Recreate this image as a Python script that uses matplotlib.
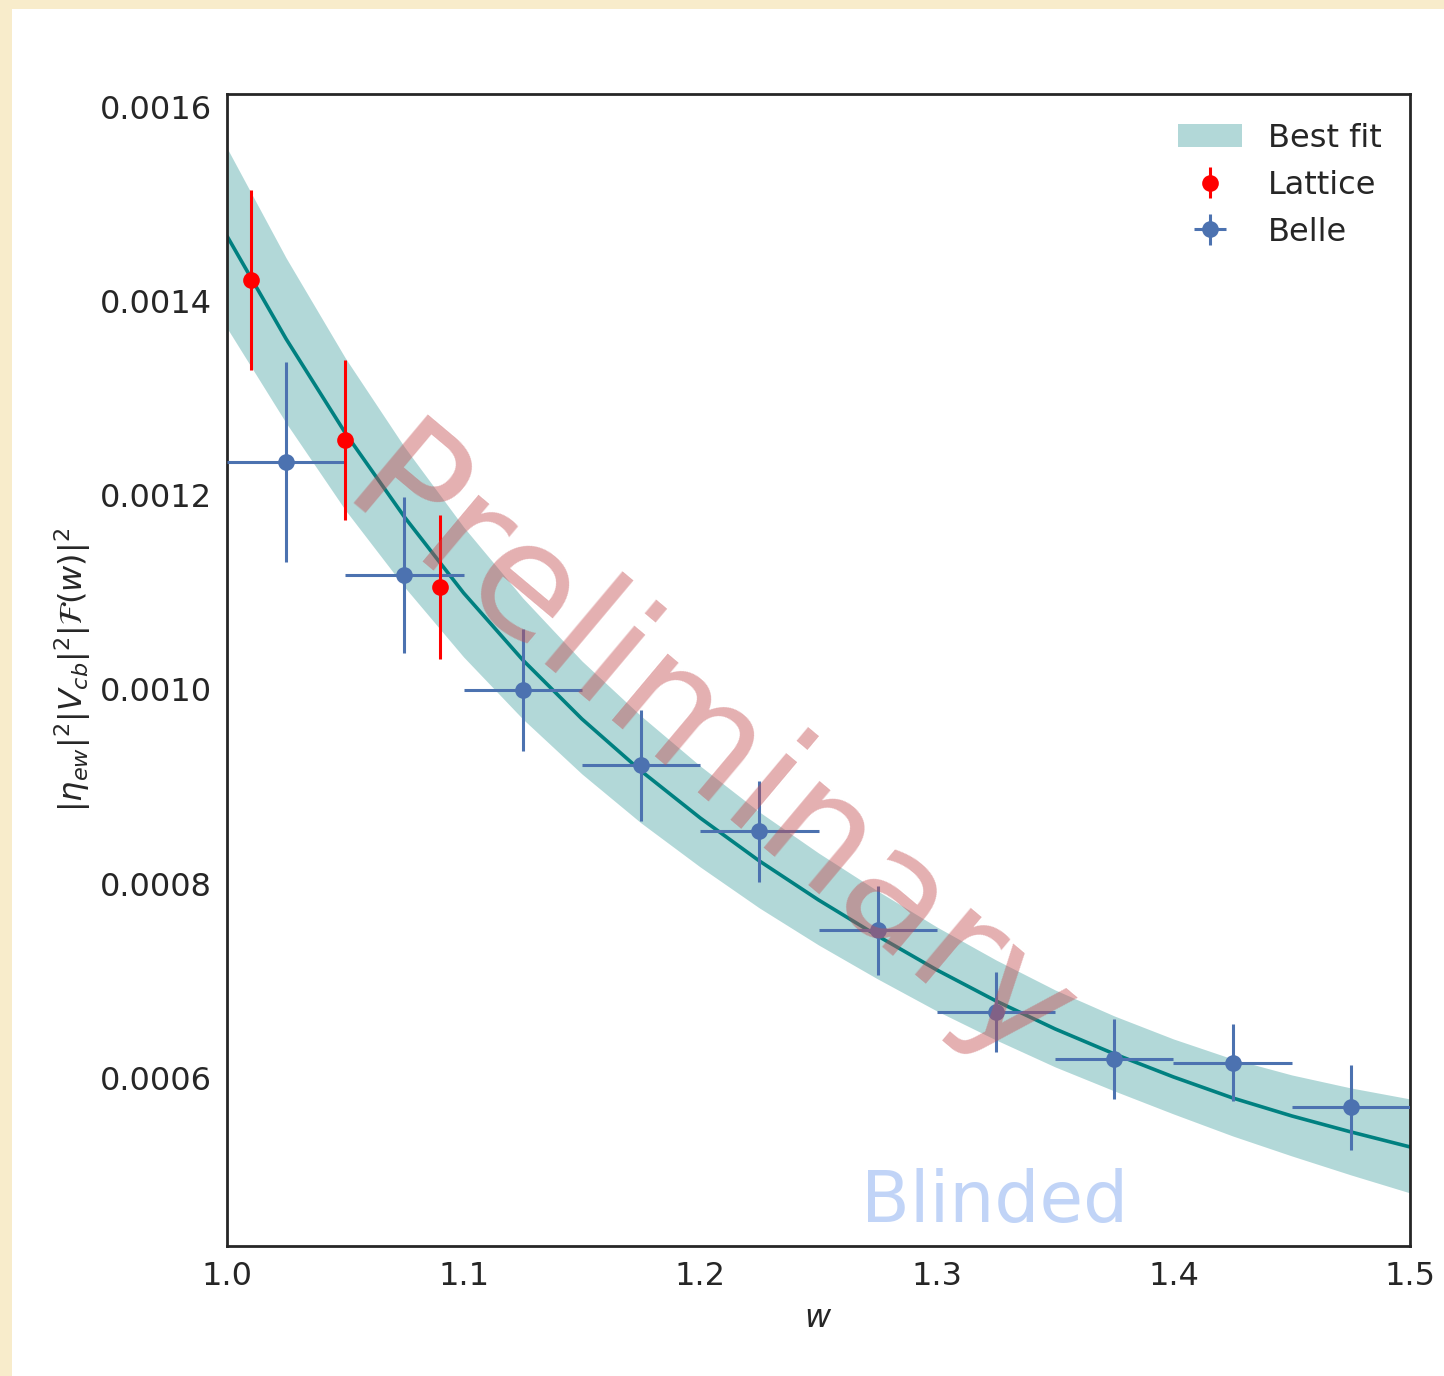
import numpy as np
import matplotlib.pyplot as plt
from matplotlib.patches import Rectangle
import seaborn as sns

sns.set_style("white")
plt.rcParams['font.family'] = ['DejaVu Sans']
plt.rcParams['mathtext.fontset'] = 'dejavusans'

# fit curve and 1 sigma band
w_fit = [1.000, 1.025, 1.050, 1.075, 1.100, 1.125, 1.150, 1.175, 1.200, 1.225, 1.250,
         1.275, 1.300, 1.325, 1.350, 1.375, 1.400, 1.425, 1.450, 1.475, 1.500]
fit_central = [1466.88, 1360.84, 1264.06, 1177.58, 1099.33, 1030.35, 969.61, 916.07,
               867.68, 823.41, 783.26, 746.20, 711.19, 679.28, 650.45, 624.71, 601.03,
               579.41, 560.88, 544.41, 528.96]
fit_upper = [1557.48, 1444.23, 1341.27, 1249.65, 1167.28, 1094.18, 1029.32, 972.70,
             921.22, 873.86, 831.65, 792.53, 755.46, 721.49, 690.60, 663.83, 640.15,
             619.56, 603.09, 589.70, 578.38]
fit_lower = [1372.16, 1274.35, 1184.78, 1105.51, 1033.44, 969.61, 912.98, 862.53,
             817.23, 775.02, 736.93, 701.93, 668.98, 639.12, 611.33, 586.62, 562.94,
             540.29, 519.70, 500.14, 481.61]
# stored in units of 1e-6
fit_central = np.array(fit_central) * 1e-6
fit_upper = np.array(fit_upper) * 1e-6
fit_lower = np.array(fit_lower) * 1e-6

# lattice points
w_lat = [1.01, 1.05, 1.09]
f_lat = [0.0014216, 0.0012569, 0.0011055]
f_lat_err = [0.0000930, 0.0000827, 0.0000743]

# Belle bins
w_belle = [1.025, 1.075, 1.125, 1.175, 1.225, 1.275, 1.325, 1.375, 1.425, 1.475]
w_belle_err = [0.025] * 10
f_belle = [0.0012342, 0.0011179, 0.0009995, 0.0009219, 0.0008540,
           0.0007519, 0.0006683, 0.0006196, 0.0006157, 0.0005696]
f_belle_err = [0.0001026, 0.0000800, 0.0000625, 0.0000569, 0.0000518,
               0.0000458, 0.0000412, 0.0000412, 0.0000399, 0.0000438]

xticks = [1.0, 1.1, 1.2, 1.3, 1.4, 1.5]
yticks = [0.0006, 0.0008, 0.0010, 0.0012, 0.0014, 0.0016]

fs = 11.5
fig = plt.figure(figsize=(7.22, 6.88), dpi=200, facecolor='#f8eccb')
fig.patches.append(Rectangle((12 / 1444, 0), 1, 1 - 9 / 1376, transform=fig.transFigure,
                             facecolor='white', edgecolor='none', zorder=-1))
ax = fig.add_axes([0.1572, 0.0945, 0.8193, 0.8372])

ax.fill_between(w_fit, fit_lower, fit_upper, color='teal', alpha=0.3, lw=0, label='Best fit')
ax.plot(w_fit, fit_central, color='teal', lw=1.3)
ax.errorbar(w_lat, f_lat, yerr=f_lat_err, fmt='o', color='red', ms=5, elinewidth=1.1,
            label='Lattice', zorder=4)
ax.errorbar(w_belle, f_belle, yerr=f_belle_err, xerr=w_belle_err, fmt='o', color='#4C72B0',
            ms=5, elinewidth=1.1, label='Belle', zorder=3)

ax.text(1.203, 0.000931, 'Preliminary', color='#C44E52', alpha=0.45, fontsize=57,
        rotation=-40, ha='center', va='center', zorder=5)
ax.text(1.3246, 0.0004517, 'Blinded', color='cornflowerblue', alpha=0.4, fontsize=25.6,
        ha='center', va='baseline', zorder=5)

ax.set_xlim(1.0, 1.5)
ax.set_ylim(0.000427, 0.0016131)
ax.set_xticks(xticks)
ax.set_xticklabels(['%.1f' % t for t in xticks])
ax.set_yticks(yticks)
ax.set_yticklabels(['%.4f' % t for t in yticks])
ax.tick_params(labelsize=fs, colors='#262626', length=0, pad=5.5)
for s in ax.spines.values():
    s.set_color('#262626')
    s.set_linewidth(1.0)

ax.set_xlabel(r'$w$', fontsize=fs, color='#262626', labelpad=4)
ax.set_ylabel(r'$|\eta_{ew}|^2|V_{cb}|^2|\mathcal{F}(w)|^2$', fontsize=fs,
              color='#262626', labelpad=2.5)

ax.legend(loc='upper right', frameon=False, fontsize=fs, handletextpad=0.8)

fig.savefig('out.png', dpi=200, facecolor=fig.get_facecolor())
